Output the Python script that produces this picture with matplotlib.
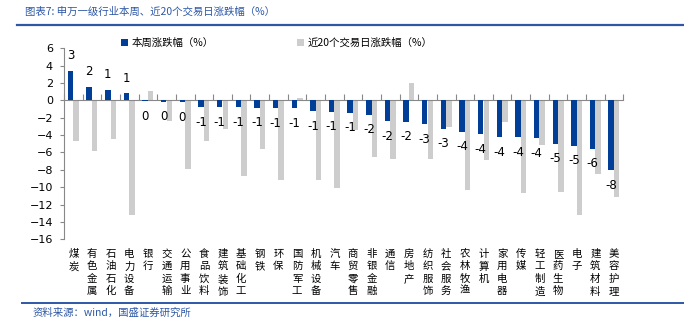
import numpy as np
import matplotlib
matplotlib.use('Agg')
import matplotlib.pyplot as plt
from matplotlib.lines import Line2D

plt.rcParams['font.family'] = ['Noto Sans CJK SC', 'DejaVu Sans']

industries = ['煤炭', '有色金属', '石油石化', '电力设备', '银行', '交通运输', '公用事业',
              '食品饮料', '建筑装饰', '基础化工', '钢铁', '环保', '国防军工', '机械设备',
              '汽车', '商贸零售', '非银金融', '通信', '房地产', '纺织服饰', '社会服务',
              '农林牧渔', '计算机', '家用电器', '传媒', '轻工制造', '医药生物', '电子',
              '建筑材料', '美容护理']

week_chg = [3.41, 1.53, 1.19, 0.80, -0.09, -0.15, -0.20,
            -0.77, -0.77, -0.81, -0.84, -0.91, -0.93, -1.27,
            -1.30, -1.42, -1.65, -2.40, -2.44, -2.70, -3.26,
            -3.61, -3.91, -4.22, -4.26, -4.31, -4.99, -5.22,
            -5.57, -8.00]

d20_chg = [-4.74, -5.80, -4.51, -13.16, 1.07, -2.40, -7.87,
           -4.64, -3.30, -8.67, -5.60, -9.21, 0.23, -9.23,
           -10.13, -3.43, -6.49, -6.73, 1.99, -6.79, -3.07,
           -10.36, -6.85, -2.44, -10.63, -5.18, -10.60, -13.16,
           -8.44, -11.09]

labels = ['本周涨跌幅（%）', '近20个交易日涨跌幅（%）']

blue = '#003E98'
grey = '#CDCDCD'
navy = '#2E58A6'

fig = plt.figure(figsize=(6.84, 3.26), dpi=100)
ax = fig.add_axes([64 / 684, 1 - 239.3 / 326, 559.3 / 684, 191.1 / 326])

x = np.arange(len(industries))
w = 0.29
b1 = ax.bar(x - 0.15, week_chg, w, color=blue, label=labels[0], zorder=3)
b2 = ax.bar(x + 0.15, d20_chg, w, color=grey, label=labels[1], zorder=2)

# rounded value labels on the weekly bars
for xi, v in zip(x, week_chg):
    off = 11 if v >= 0 else -11
    ax.annotate(str(round(v)), (xi - 0.15, v), xytext=(0, off), textcoords='offset points',
                ha='center', va='center', fontsize=8.5, family='DejaVu Sans')

ax.set_xlim(-0.5, len(industries) - 0.5)
ax.set_ylim(-16, 6)
ax.set_yticks(np.arange(-16, 7, 2))
ax.tick_params(axis='y', labelsize=8, length=3, color='#888888', pad=5)
for t in ax.get_yticklabels():
    t.set_family('DejaVu Sans')

ax.set_xticks(np.arange(-0.5, len(industries), 1))
ax.set_xticklabels([])
ax.tick_params(axis='x', direction='in', length=4, color='#888888')

for s in ['top', 'right']:
    ax.spines[s].set_visible(False)
ax.spines['bottom'].set_position(('data', 0))
ax.spines['left'].set_color('#888888')
ax.spines['bottom'].set_color('#888888')

# vertical category names under the axes
for xi, name in zip(x, industries):
    ax.text(xi, -0.05, '\n'.join(name), transform=ax.get_xaxis_transform(),
            ha='center', va='top', fontsize=7.5, linespacing=1.3)

ax.legend(handles=[b1, b2], labels=labels, ncol=2, frameon=False, fontsize=7.5,
          loc='center left', bbox_to_anchor=(112 / 684, 1 - 43 / 326),
          bbox_transform=fig.transFigure, handlelength=0.6, handleheight=0.6,
          handletextpad=0.4, columnspacing=8.0)

fig.text(25 / 684, 1 - 12 / 326, '图表7: 申万一级行业本周、近20个交易日涨跌幅（%）',
         color=navy, fontsize=7.5, va='center', ha='left')
fig.add_artist(Line2D([17 / 684, 1], [1 - 25 / 326] * 2, transform=fig.transFigure,
                      color=navy, lw=1.6))
fig.add_artist(Line2D([22 / 684, 1], [1 - 303 / 326] * 2, transform=fig.transFigure,
                      color=navy, lw=1.4))
fig.text(33 / 684, 1 - 313 / 326, '资料来源：wind，国盛证券研究所',
         color=navy, fontsize=7.5, va='center', ha='left')

fig.savefig('out.png', dpi=100)
